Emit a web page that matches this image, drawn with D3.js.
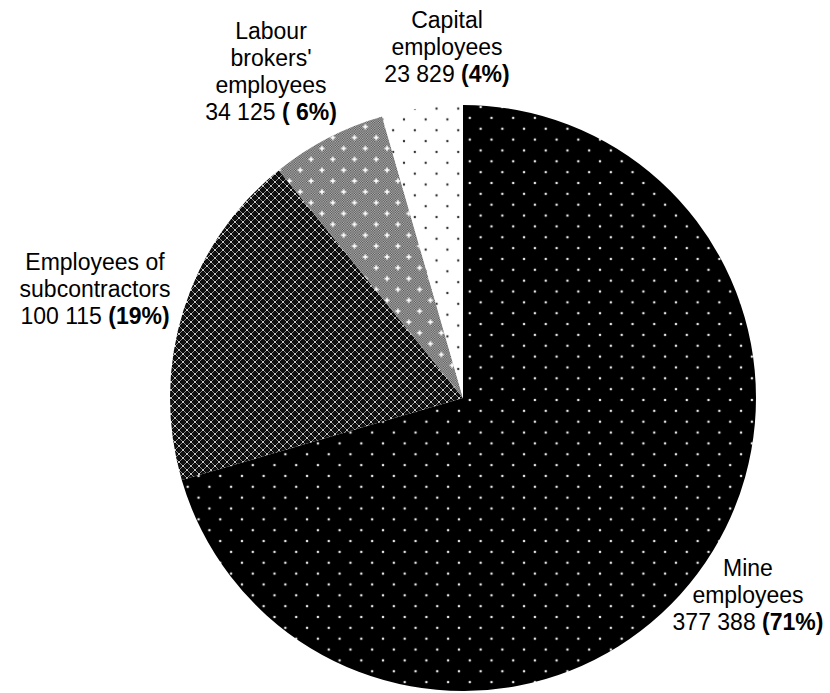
<!DOCTYPE html>
<html>
<head>
<meta charset="utf-8">
<script src="https://cdn.jsdelivr.net/npm/d3@7/dist/d3.min.js"></script>
<style>
  html, body { margin: 0; padding: 0; background: #fff; }
  svg { display: block; }
  text { font-family: "Liberation Sans", Arial, sans-serif; font-size: 23px; fill: #000; }
</style>
</head>
<body>
<svg id="chart" width="830" height="693"></svg>
<script>
// Workforce composition
const categories = ["Mine employees", "Employees of subcontractors", "Labour brokers' employees", "Capital employees"];
const values = [377388, 100115, 34125, 23829];
const percentLabels = ["71%", "19%", " 6%", "4%"];
const nameLines = [
  ["Mine", "employees"],
  ["Employees of", "subcontractors"],
  ["Labour", "brokers'", "employees"],
  ["Capital", "employees"]
];

const W = 830, H = 693;
const cx = 463, cy = 398, R = 293;

const svg = d3.select("#chart");
const defs = svg.append("defs");

// --- fill patterns ---
const step = 21.7;

// black with light dots (staggered)
const pMine = defs.append("pattern").attr("id", "p-mine")
  .attr("patternUnits", "userSpaceOnUse")
  .attr("width", step).attr("height", step)
  .attr("x", 6.8).attr("y", 2);
pMine.append("rect").attr("width", step).attr("height", step).attr("fill", "#000");
[[0, 0], [step, 0], [0, step], [step, step], [step / 2, step / 2]].forEach(([x, y]) =>
  pMine.append("circle").attr("cx", x).attr("cy", y).attr("r", 1.3).attr("fill", "#e6e6e6"));

// white with dark dots (staggered)
const pCap = defs.append("pattern").attr("id", "p-cap")
  .attr("patternUnits", "userSpaceOnUse")
  .attr("width", step).attr("height", step)
  .attr("x", 6.1).attr("y", 3.5);
pCap.append("rect").attr("width", step).attr("height", step).attr("fill", "#fff");
[[0, 0], [step, 0], [0, step], [step, step], [step / 2, step / 2]].forEach(([x, y]) =>
  pCap.append("circle").attr("cx", x).attr("cy", y).attr("r", 1.2).attr("fill", "#333"));

// dark crosses on grey lattice
const t = 8;
const pSub = defs.append("pattern").attr("id", "p-sub")
  .attr("patternUnits", "userSpaceOnUse")
  .attr("width", t).attr("height", t);
pSub.append("rect").attr("width", t).attr("height", t).attr("fill", "#8c8c8c");
function cross(g, x, y) {
  g.append("rect").attr("x", x - 3).attr("y", y - 1).attr("width", 6).attr("height", 2).attr("fill", "#000");
  g.append("rect").attr("x", x - 1).attr("y", y - 3).attr("width", 2).attr("height", 6).attr("fill", "#000");
  g.append("rect").attr("x", x - 2).attr("y", y - 2).attr("width", 4).attr("height", 4).attr("fill", "#111");
}
[[0, 0], [t, 0], [0, t], [t, t], [t / 2, t / 2]].forEach(([x, y]) => cross(pSub, x, y));
[[t / 2, 0], [t / 2, t], [0, t / 2], [t, t / 2]].forEach(([x, y]) =>
  pSub.append("rect").attr("x", x - 0.75).attr("y", y - 0.75).attr("width", 1.5).attr("height", 1.5).attr("fill", "#f2f2f2"));

// fine grey checker
const c = 2.4;
const pChk = defs.append("pattern").attr("id", "p-chk")
  .attr("patternUnits", "userSpaceOnUse")
  .attr("width", c).attr("height", c);
pChk.append("rect").attr("width", c).attr("height", c).attr("fill", "#bcbcbc");
pChk.append("rect").attr("width", c / 2).attr("height", c / 2).attr("fill", "#4a4a4a");
pChk.append("rect").attr("x", c / 2).attr("y", c / 2).attr("width", c / 2).attr("height", c / 2).attr("fill", "#4a4a4a");

// light sparkle overlay for the checker
const pSpk = defs.append("pattern").attr("id", "p-spk")
  .attr("patternUnits", "userSpaceOnUse")
  .attr("width", step).attr("height", step);
[[0, 0], [step, 0], [0, step], [step, step], [step / 2, step / 2]].forEach(([x, y]) => {
  pSpk.append("rect").attr("x", x - 2.5).attr("y", y - 0.8).attr("width", 5).attr("height", 1.6).attr("fill", "#fff");
  pSpk.append("rect").attr("x", x - 0.8).attr("y", y - 2.5).attr("width", 1.6).attr("height", 5).attr("fill", "#fff");
});

const fills = ["url(#p-mine)", "url(#p-sub)", "url(#p-chk)", "url(#p-cap)"];

// --- pie ---
const pie = d3.pie().sort(null).value(d => d);
const arcs = pie(values);
const arc = d3.arc().innerRadius(0).outerRadius(R);

const g = svg.append("g").attr("transform", `translate(${cx},${cy})`);
g.selectAll("path.slice")
  .data(arcs)
  .join("path")
  .attr("class", "slice")
  .attr("d", arc)
  .attr("fill", (d, i) => fills[i]);

// sparkle layer on labour brokers' slice
g.append("path").attr("d", arc(arcs[2])).attr("fill", "url(#p-spk)");

// --- labels ---
const fmt = d3.formatLocale({ decimal: ".", thousands: " ", grouping: [3], currency: ["", ""] }).format(",");
const labelPos = [
  { x: 748, y: 576 },
  { x: 95, y: 270 },
  { x: 271, y: 39 },
  { x: 447, y: 28 }
];
const lineH = 27;

const lab = svg.append("g");
categories.forEach((name, i) => {
  const p = labelPos[i];
  const txt = lab.append("text").attr("text-anchor", "middle");
  const lines = nameLines[i];
  lines.forEach((ln, k) => {
    txt.append("tspan").attr("x", p.x).attr("y", p.y + k * lineH).text(ln);
  });
  const last = txt.append("tspan").attr("x", p.x).attr("y", p.y + lines.length * lineH);
  last.append("tspan").text(fmt(values[i]) + " ");
  last.append("tspan").attr("font-weight", "bold").style("white-space", "pre").text("(" + percentLabels[i] + ")");
});
</script>
</body>
</html>
